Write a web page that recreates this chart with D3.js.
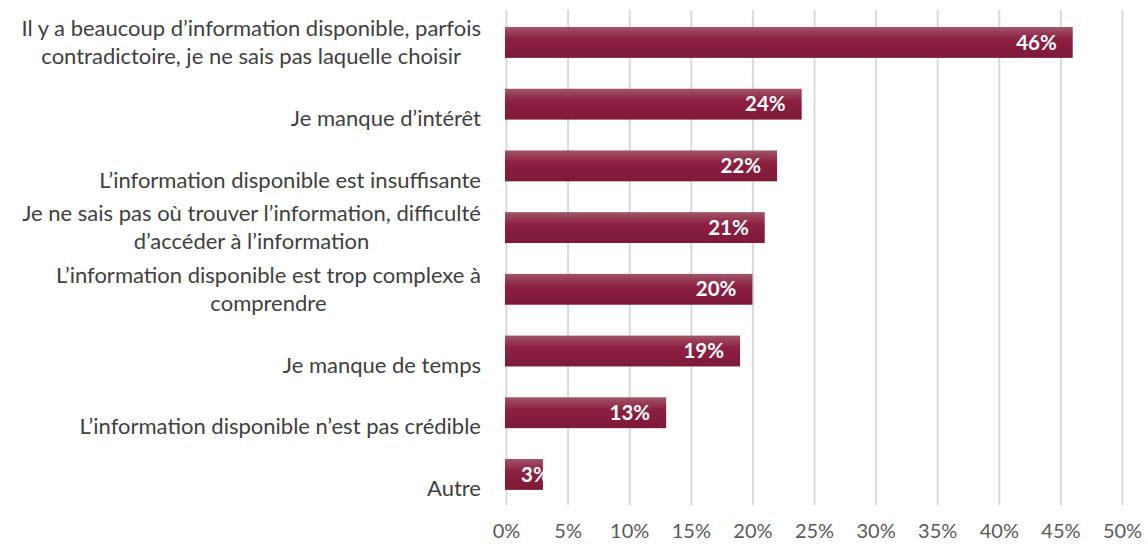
<!DOCTYPE html>
<html>
    <head>
        <script src="https://d3js.org/d3.v7.min.js"></script>
        <style>
            body { margin: 0; background: #fff; }
            .gridlines line { stroke: #d9d9d9; stroke-width: 2; }
            .gridlines .domain { stroke: none; }
            .gridlines text { fill: #595959; font-family: Lato, sans-serif; font-size: 20px; }
            .cat { fill: #404040; font-family: Lato, sans-serif; font-size: 22px; }
            .val { fill: #fff; font-family: Lato, sans-serif; font-size: 20.5px; font-weight: bold; }
        </style>
    </head>
    <body>
        <svg id="svg" width=1148 height=548></svg>
        <script>
            // data, top to bottom
            const categories = [
                ["Il y a beaucoup d\u2019information disponible, parfois", "contradictoire, je ne sais pas laquelle choisir"],
                ["Je manque d\u2019int\u00e9r\u00eat"],
                ["L\u2019information disponible est insuffisante"],
                ["Je ne sais pas o\u00f9 trouver l\u2019information, difficult\u00e9", "d\u2019acc\u00e9der \u00e0 l\u2019information"],
                ["L\u2019information disponible est trop complexe \u00e0", "comprendre"],
                ["Je manque de temps"],
                ["L\u2019information disponible n\u2019est pas cr\u00e9dible"],
                ["Autre"]
            ];
            const values = [46, 24, 22, 21, 20, 19, 13, 3];
            const tickValues = [0, 5, 10, 15, 20, 25, 30, 35, 40, 45, 50];

            const svg = d3.select("svg#svg");
            const margins = { top: 11.6, left: 506, right: 26, bottom: 42.7 };
            const width = +svg.attr("width");
            const height = +svg.attr("height");

            const xScale = d3.scaleLinear()
                             .domain([0, 50])
                             .range([margins.left, width - margins.right]);

            const yScale = d3.scaleBand()
                             .domain(d3.range(values.length))
                             .range([margins.top, height - margins.bottom])
                             .paddingInner(0.5)
                             .paddingOuter(0.25);

            // gradient for bars
            const defs = svg.append("defs");
            const grad = defs.append("linearGradient")
                             .attr("id", "barGrad")
                             .attr("x1", 0).attr("y1", 0).attr("x2", 0).attr("y2", 1);
            grad.append("stop").attr("offset", "0%").attr("stop-color", "#a05566");
            grad.append("stop").attr("offset", "40%").attr("stop-color", "#8d1f42");
            grad.append("stop").attr("offset", "100%").attr("stop-color", "#7d1a38");

            // gridlines + tick labels
            const gridAxis = d3.axisBottom(xScale)
                               .tickValues(tickValues)
                               .tickSize(-(height - margins.bottom - 10))
                               .tickPadding(19)
                               .tickFormat(d => d + "%");
            svg.append("g")
               .attr("class", "gridlines")
               .attr("transform", `translate(0, ${height - margins.bottom})`)
               .call(gridAxis);

            // bars
            const bars = svg.append("g").attr("id", "bars");
            bars.selectAll("rect")
                .data(values)
                .join("rect")
                .attr("x", xScale(0) - 1)
                .attr("y", (d, i) => yScale(i))
                .attr("width", d => xScale(d) - xScale(0) + 1)
                .attr("height", yScale.bandwidth())
                .attr("fill", "url(#barGrad)");

            // clip paths so labels stay inside bars
            values.forEach((d, i) => {
                defs.append("clipPath")
                    .attr("id", "clip" + i)
                    .append("rect")
                    .attr("x", xScale(0) - 1)
                    .attr("y", yScale(i))
                    .attr("width", xScale(d) - xScale(0) + 1)
                    .attr("height", yScale.bandwidth());
            });

            // value labels
            const pad = 16;
            const vals = svg.append("g").attr("id", "valueLabels");
            vals.selectAll("text")
                .data(values)
                .join("text")
                .attr("class", "val")
                .attr("clip-path", (d, i) => `url(#clip${i})`)
                .attr("y", (d, i) => yScale(i) + yScale.bandwidth() / 2)
                .attr("dy", "0.35em")
                .text(d => d + "%")
                .attr("x", function(d) {
                    const w = this.getComputedTextLength();
                    return Math.max(xScale(d) - pad - w, xScale(0) + 15);
                });

            // category labels: block right aligned, lines centred
            const labelRight = 481;
            const lineH = 28;
            const cats = svg.append("g").attr("id", "categoryLabels");
            categories.forEach((lines, i) => {
                const g = cats.append("g");
                const cy = yScale(i) + yScale.bandwidth() / 2;
                const texts = lines.map((line, j) => g.append("text")
                                                     .attr("class", "cat")
                                                     .attr("dy", "0.35em")
                                                     .text(line));
                const widths = texts.map(t => t.node().getComputedTextLength());
                const maxW = d3.max(widths);
                const centerX = labelRight - maxW / 2;
                // single line labels sit lower, as in the source chart
                const startY = lines.length === 1 ? cy + 14 : cy - (lines.length - 1) * lineH / 2;
                texts.forEach((t, j) => {
                    t.attr("text-anchor", "middle")
                     .attr("x", centerX)
                     .attr("y", startY + j * lineH);
                });
            });
        </script>
    </body>
</html>
